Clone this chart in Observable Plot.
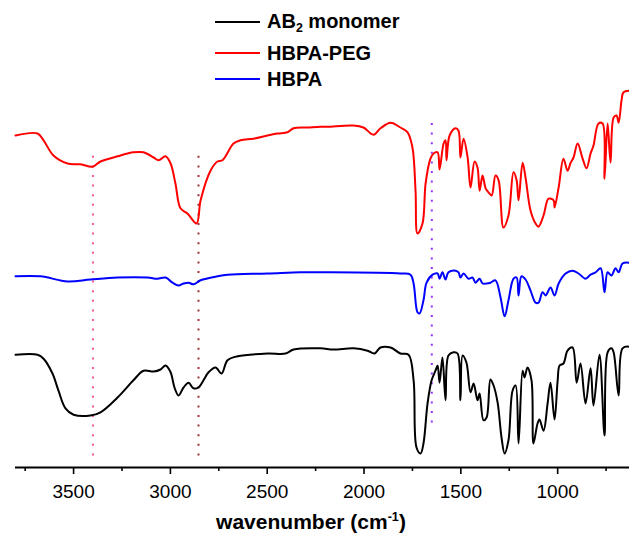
<!DOCTYPE html>
<html>
<head>
<meta charset="utf-8">
<script src="https://cdn.jsdelivr.net/npm/d3@7"></script>
<script src="https://cdn.jsdelivr.net/npm/@observablehq/plot@0.6"></script>
<style>
  html, body { margin: 0; padding: 0; background: #fff; }
  #wrap { position: relative; width: 629px; height: 535px; font-family: Arial, "Liberation Sans", sans-serif; }
  #chart { position: absolute; left: 0; top: 0; }
  .leg { position: absolute; left: 215px; height: 24px; display: flex; align-items: center; font-weight: bold; font-size: 20px; line-height: 24px; color: #000; white-space: nowrap; }
  .leg .sw { display: inline-block; width: 45px; height: 2px; margin-right: 7px; }
  .sub { font-size: 0.62em; position: relative; top: 0.38em; }
  #xtitle { position: absolute; left: 0; width: 622px; top: 509px; text-align: center; font-weight: bold; font-size: 21px; line-height: 26px; color: #000; }
  #xtitle .sup { font-size: 0.6em; position: relative; top: -0.6em; }
</style>
</head>
<body>
<div id="wrap">
  <div id="chart"></div>
  <div id="legend"></div>
  <div id="xtitle">wavenumber (cm<span class="sup">-1</span>)</div>
</div>
<script>
// Series names and colours (legend order)
const seriesNames = ["AB2 monomer", "HBPA-PEG", "HBPA"];
const seriesColors = ["#000000", "#ff0000", "#0000ff"];

// Spectra: [wavenumber (cm-1), offset transmittance (a.u.)]
const hbpaPegSpectrum = [
  [3800,83.0],[3686,83.5],[3655,81.8],[3604,78.0],[3531,76.0],[3464,75.8],[3402,75.2],[3361,76.5],
  [3273,77.8],[3191,78.8],[3139,78.8],[3087,77.5],[3061,76.8],[3025,77.8],[2999,76.0],[2974,71.0],
  [2948,64.8],[2912,63.5],[2865,61.0],[2844,66.8],[2793,74.2],[2757,76.5],[2731,76.8],[2674,81.0],
  [2638,81.8],[2571,82.2],[2498,83.0],[2447,83.5],[2395,83.8],[2364,84.8],[2292,85.0],[2225,85.2],
  [2189,85.2],[2054,85.5],[2003,85.0],[1951,83.2],[1915,84.8],[1863,86.2],[1812,85.0],[1775,83.8],
  [1750,80.0],[1734,69.2],[1724,58.5],[1698,61.0],[1682,71.0],[1657,77.2],[1641,78.5],[1620,78.8],
  [1610,74.5],[1589,81.0],[1579,81.8],[1574,76.8],[1558,83.0],[1527,84.8],[1512,84.2],[1502,77.5],
  [1486,82.2],[1465,77.5],[1450,70.0],[1429,76.5],[1414,75.0],[1403,69.2],[1388,73.0],[1372,69.8],
  [1357,68.8],[1341,68.0],[1321,73.0],[1305,71.8],[1280,60.0],[1254,63.0],[1228,73.8],[1212,71.8],
  [1202,66.8],[1181,76.2],[1166,72.5],[1140,64.2],[1114,61.0],[1099,60.2],[1073,63.0],[1047,67.2],
  [1021,66.8],[1016,65.0],[995,70.0],[970,77.2],[949,74.2],[933,76.2],[918,77.5],[897,81.0],
  [871,77.2],[851,74.8],[830,78.5],[815,80.5],[789,86.0],[768,86.0],[758,72.2],[742,86.0],
  [727,76.2],[711,87.5],[696,88.0],[685,86.2],[670,91.8],[660,93.8],[629,94.2]
];

const hbpaSpectrum = [
  [3800,47.8],[3671,47.8],[3531,46.5],[3413,47.0],[3273,47.5],[3118,47.5],[3067,47.2],[3025,47.5],
  [2989,46.2],[2958,45.5],[2932,46.0],[2906,46.2],[2881,45.8],[2844,46.8],[2757,47.8],[2705,48.2],
  [2498,48.5],[2328,48.8],[2225,48.8],[1812,48.5],[1760,48.2],[1744,46.0],[1724,38.8],[1713,38.5],
  [1693,41.8],[1677,46.2],[1646,48.2],[1620,48.5],[1610,47.2],[1595,48.8],[1579,47.0],[1564,48.8],
  [1527,49.2],[1512,48.8],[1502,47.5],[1486,48.5],[1460,47.2],[1440,47.5],[1424,46.2],[1403,47.2],
  [1388,46.0],[1367,46.0],[1347,46.2],[1321,46.8],[1295,42.5],[1274,37.8],[1254,41.8],[1228,47.2],
  [1212,47.5],[1202,43.0],[1187,47.8],[1166,47.0],[1140,44.2],[1114,41.2],[1099,41.2],[1078,43.8],
  [1062,43.0],[1037,45.0],[1016,43.0],[995,46.0],[959,48.5],[923,49.2],[892,48.5],[856,47.2],
  [830,48.2],[804,48.8],[778,49.8],[758,43.8],[742,48.8],[722,48.0],[701,49.8],[685,48.8],
  [665,51.0],[629,51.2]
];

const ab2Spectrum = [
  [3800,28.2],[3686,28.2],[3655,27.2],[3609,23.5],[3578,19.2],[3542,14.8],[3500,13.2],[3413,13.0],
  [3361,13.8],[3273,17.5],[3191,21.8],[3139,24.2],[3087,24.0],[3051,24.5],[3025,25.5],[2999,23.8],
  [2979,20.0],[2958,18.0],[2932,20.0],[2906,21.2],[2881,19.8],[2855,20.0],[2829,21.8],[2803,23.8],
  [2767,25.0],[2736,23.5],[2705,26.8],[2653,27.8],[2498,28.5],[2405,28.5],[2364,29.5],[2225,29.8],
  [2158,29.5],[2054,29.8],[1982,29.2],[1946,28.5],[1915,30.0],[1863,30.0],[1812,28.5],[1770,28.2],
  [1744,21.8],[1729,5.0],[1708,3.5],[1693,6.0],[1672,16.0],[1651,21.8],[1631,24.2],[1620,25.5],
  [1610,21.2],[1595,27.5],[1579,16.8],[1564,28.0],[1538,28.8],[1517,28.5],[1502,16.8],[1491,28.0],
  [1471,26.2],[1450,18.8],[1434,21.0],[1414,16.8],[1403,18.5],[1383,11.8],[1367,12.5],[1347,22.0],
  [1331,20.5],[1310,16.2],[1290,7.5],[1274,3.5],[1254,6.8],[1233,19.2],[1217,20.5],[1202,6.0],
  [1181,24.2],[1171,22.5],[1156,25.0],[1135,21.8],[1125,6.0],[1104,11.0],[1094,12.0],[1073,9.2],
  [1052,16.0],[1037,21.2],[1016,12.0],[1000,21.8],[990,25.5],[970,26.0],[949,29.2],[923,30.0],
  [902,21.2],[882,26.0],[856,16.0],[830,24.8],[815,15.5],[784,28.2],[758,8.0],[742,28.8],
  [722,29.8],[711,28.8],[685,18.0],[665,29.8],[629,30.2]
];

// Dotted marker lines at band positions
const markerWavenumbers = [3400, 2855, 1650];
const markerTop = [77.8, 77.8, 86.0];
const markerBottom = [1.5, 1.5, 9.8];
const markerColors = ["#ff5599", "#a0303a", "#9933ff"];

// Axis ticks
const majorTicks = [3500, 3000, 2500, 2000, 1500, 1000];
const minorTicks = [3750, 3250, 2750, 2250, 1750, 1250, 750];

const toRows = (arr) => arr.map(([wn, t]) => ({wn, t}));
const markers = markerWavenumbers.map((wn, i) => ({wn, y1: markerTop[i], y2: markerBottom[i], c: markerColors[i]}));

const chart = Plot.plot({
  width: 629,
  height: 535,
  marginLeft: 15,
  marginRight: 0,
  marginTop: 67,
  marginBottom: 68,
  style: {fontFamily: "Arial, 'Liberation Sans', sans-serif", background: "transparent"},
  x: {domain: [3800, 629], axis: null},
  y: {domain: [0, 100], axis: null},
  marks: [
    Plot.ruleX(markers, {x: "wn", y1: "y1", y2: "y2", stroke: "c", strokeWidth: 2, strokeDasharray: "2,7.6"}),
    Plot.line(toRows(ab2Spectrum), {x: "wn", y: "t", stroke: seriesColors[0], strokeWidth: 2, curve: "catmull-rom"}),
    Plot.line(toRows(hbpaPegSpectrum), {x: "wn", y: "t", stroke: seriesColors[1], strokeWidth: 2, curve: "catmull-rom"}),
    Plot.line(toRows(hbpaSpectrum), {x: "wn", y: "t", stroke: seriesColors[2], strokeWidth: 2, curve: "catmull-rom"}),
    Plot.axisX({ticks: minorTicks, tickSize: 4, strokeWidth: 1.6, tickFormat: () => "", label: null}),
    Plot.axisX({ticks: majorTicks, tickSize: 7, strokeWidth: 1.6, tickPadding: 10, fontSize: 19, fill: "#000", tickFormat: d => String(d), label: null}),
    Plot.ruleY([0], {stroke: "#000", strokeWidth: 2})
  ]
});
document.getElementById("chart").appendChild(chart);

// Legend overlay
const legendCenters = [22, 53, 79];
const legend = document.getElementById("legend");
seriesNames.forEach((name, i) => {
  const row = document.createElement("div");
  row.className = "leg";
  row.style.top = (legendCenters[i] - 12) + "px";
  const sw = document.createElement("span");
  sw.className = "sw";
  sw.style.background = seriesColors[i];
  row.appendChild(sw);
  const txt = document.createElement("span");
  if (name === "AB2 monomer") {
    txt.innerHTML = 'AB<span class="sub">2</span> monomer';
  } else {
    txt.textContent = name;
  }
  row.appendChild(txt);
  legend.appendChild(row);
});
</script>
</body>
</html>
